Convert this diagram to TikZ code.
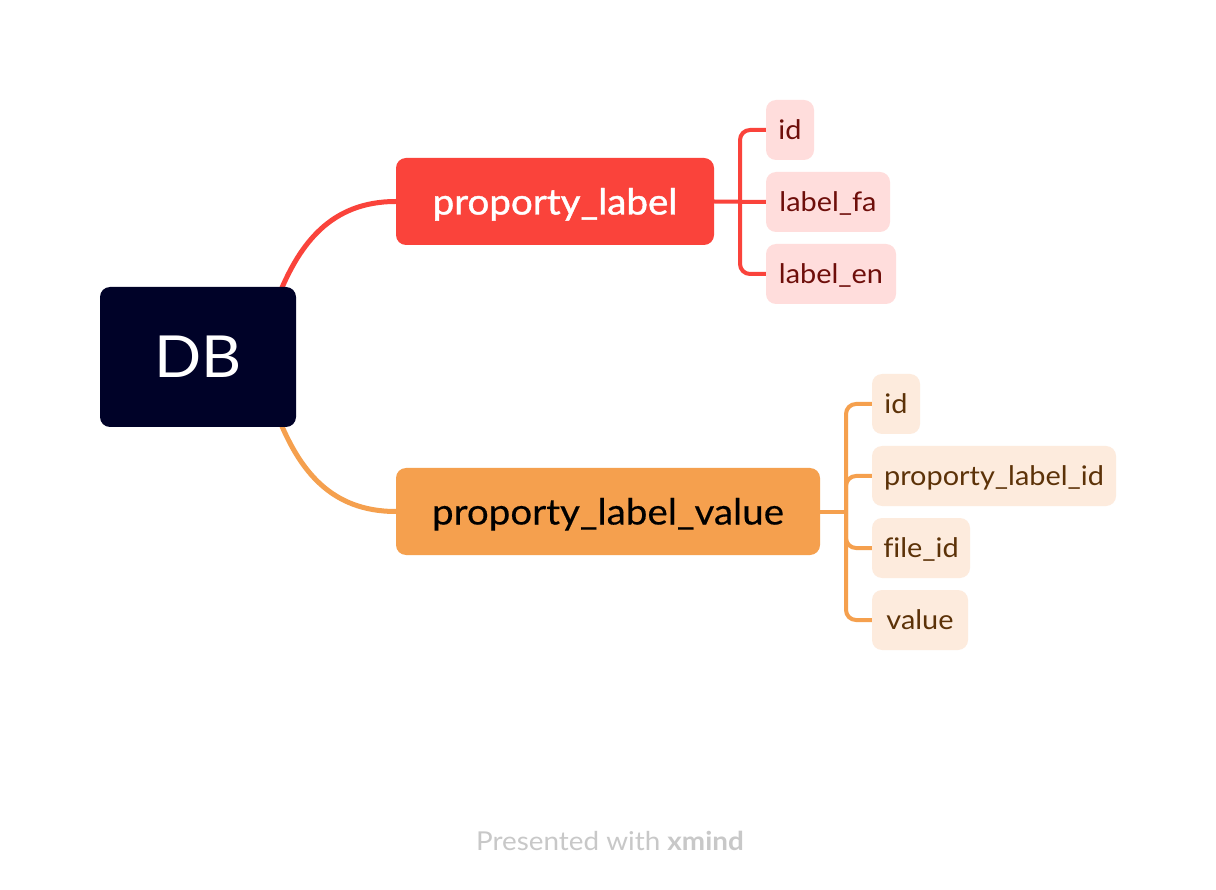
\documentclass[tikz,border=0pt]{standalone}
\usepackage{fontspec}
\setmainfont{Lato}[Ligatures=NoCommon, FakeStretch=1.07]
\newfontfamily\semibold{Lato}[Ligatures=NoCommon, FakeStretch=1.07, FakeBold=1.2]
\newfontfamily\medium{Lato}[Ligatures=NoCommon, FakeStretch=1.07, FakeBold=0.4]
\usetikzlibrary{calc}
\definecolor{dbfill}{RGB}{0,2,40}
\definecolor{redmain}{RGB}{250,67,59}
\definecolor{orgmain}{RGB}{245,160,78}
\definecolor{redsub}{RGB}{255,221,220}
\definecolor{orgsub}{RGB}{253,235,221}
\definecolor{redtxt}{RGB}{110,14,10}
\definecolor{orgtxt}{RGB}{92,50,8}
\definecolor{foot}{RGB}{200,200,200}
\pgfdeclarelayer{background}
\pgfsetlayers{background,main}
\tikzset{
  box/.style={rectangle, rounded corners=10pt, inner sep=0pt, text depth=0pt},
  central/.style={box, fill=dbfill, text=white, minimum width=196pt, minimum height=140pt, text height=42pt, font=\fontsize{58}{60}\selectfont},
  mainred/.style={box, fill=redmain, text=white, minimum height=87pt, text height=26pt, font=\fontsize{36}{40}\semibold},
  mainorg/.style={box, fill=orgmain, text=black, minimum height=87pt, text height=26pt, font=\fontsize{36}{40}\medium},
  subred/.style={box, fill=redsub, text=redtxt, minimum height=60pt, text height=19.5pt, font=\fontsize{27}{30}\selectfont},
  suborg/.style={box, fill=orgsub, text=orgtxt, minimum height=60pt, text height=19.5pt, font=\fontsize{27}{30}\selectfont},
  redline/.style={draw=redmain, line width=4pt},
  orgline/.style={draw=orgmain, line width=4pt},
  redcurve/.style={draw=redmain, line width=5pt},
  orgcurve/.style={draw=orgmain, line width=5pt},
}
\begin{document}
\begin{tikzpicture}[x=1pt,y=-1pt]
\begin{pgfonlayer}{background}
\fill[white] (0,0) rectangle (1216,890);
\end{pgfonlayer}
\useasboundingbox (0,0) rectangle (1216,890);
\node[central] (db) at (198,357) {DB};
\node[mainred, minimum width=318pt] (pl) at (555,201.5) {proporty\_label};
\node[mainorg, minimum width=424pt] (plv) at (608,511.5) {proporty\_label\_value};
\node[subred, minimum width=48pt] (r1) at (790,130) {id};
\node[subred, minimum width=124pt] (r2) at (828,202) {label\_fa};
\node[subred, minimum width=130pt] (r3) at (831,274) {label\_en};
\node[suborg, minimum width=48pt] (o1) at (896,404) {id};
\node[suborg, minimum width=244pt] (o2) at (994,476) {proporty\_label\_id};
\node[suborg, minimum width=98pt] (o3) at (921,548) {file\_id};
\node[suborg, minimum width=96pt] (o4) at (920,620) {value};
\node[text=foot, font=\fontsize{26}{28}\selectfont] (ft) at (610,841) {Presented with \textbf{xmind}};
\coordinate (rt) at (740,202);
\coordinate (ot) at (846,511.5);
\begin{pgfonlayer}{background}
\draw[redcurve] ($(db.north east)+(-16,5)$) .. controls (300,245) and (330,201.5) .. (pl.west);
\draw[orgcurve] ($(db.south east)+(-16,-5)$) .. controls (300,469) and (330,511.5) .. (plv.west);
\draw[redline] (pl.east) -- (r2.west);
\draw[redline, rounded corners=10pt] (r1.west) -| (rt) |- (r3.west);
\draw[orgline] (plv.east) -- (ot);
\draw[orgline, rounded corners=10pt] (o1.west) -| (ot) |- (o4.west);
\draw[orgline, rounded corners=10pt] (ot) |- (o2.west);
\draw[orgline, rounded corners=10pt] (ot) |- (o3.west);
\end{pgfonlayer}
\end{tikzpicture}
\end{document}
